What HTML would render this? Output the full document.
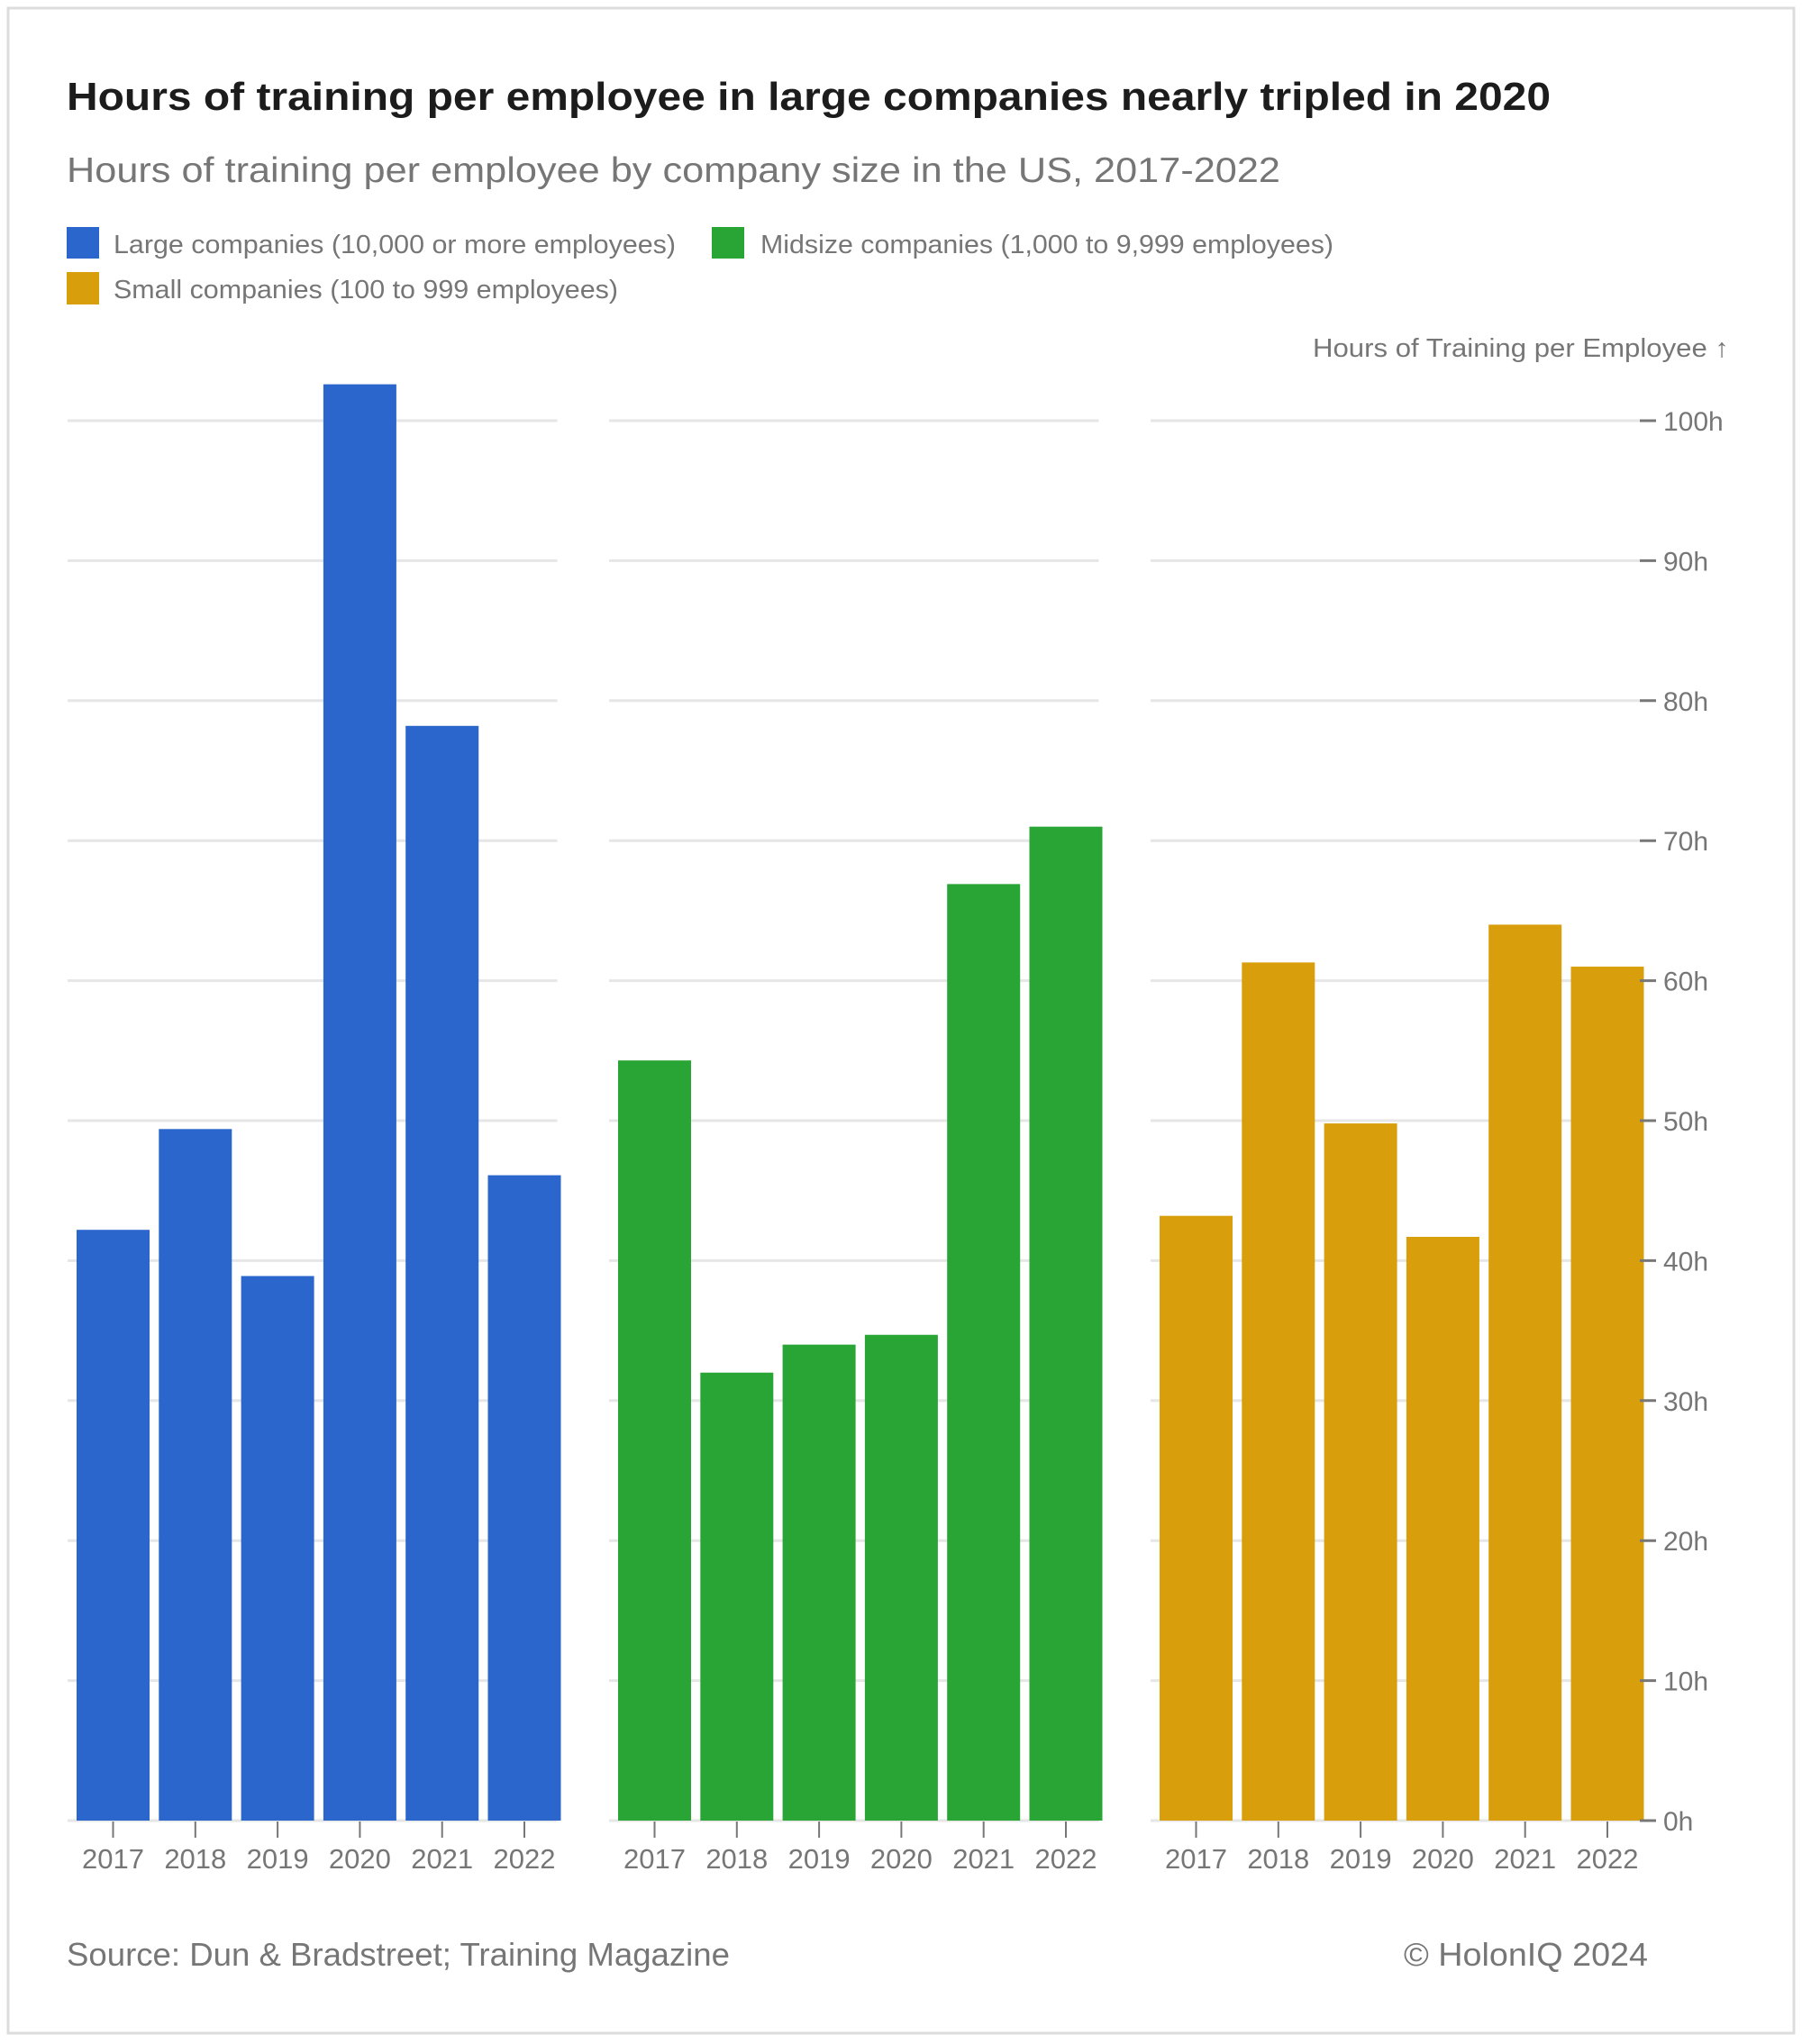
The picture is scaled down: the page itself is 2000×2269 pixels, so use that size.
<!DOCTYPE html>
<html><head><meta charset="utf-8"><style>
html,body{margin:0;padding:0;background:#fff}
svg{display:block;font-family:"Liberation Sans",sans-serif}
</style></head><body>
<svg id="chart" width="2000" height="2269" viewBox="0 0 2000 2269" xmlns="http://www.w3.org/2000/svg">
<rect x="9" y="9" width="1982" height="2248" fill="#fff" stroke="#dcdcdc" stroke-width="3"/>
<text x="74" y="122" font-size="44" font-weight="bold" fill="#1c1c1c" textLength="1647" lengthAdjust="spacingAndGlyphs">Hours of training per employee in large companies nearly tripled in 2020</text>
<text x="74" y="202" font-size="39" fill="#767676" textLength="1347" lengthAdjust="spacingAndGlyphs">Hours of training per employee by company size in the US, 2017-2022</text>
<g>
<rect x="74" y="252" width="36" height="35" fill="#2a66cc"/>
<text x="126" y="281" font-size="29" fill="#767676" textLength="624" lengthAdjust="spacingAndGlyphs">Large companies (10,000 or more employees)</text>
<rect x="790" y="252" width="36" height="35" fill="#28a534"/>
<text x="844" y="281" font-size="29" fill="#767676" textLength="636" lengthAdjust="spacingAndGlyphs">Midsize companies (1,000 to 9,999 employees)</text>
<rect x="74" y="302" width="36" height="36" fill="#d89e0b"/>
<text x="126" y="331" font-size="29" fill="#767676" textLength="560" lengthAdjust="spacingAndGlyphs">Small companies (100 to 999 employees)</text>
</g>
<text x="1919" y="396" font-size="29" fill="#767676" text-anchor="end" textLength="462" lengthAdjust="spacingAndGlyphs">Hours of Training per Employee ↑</text>
<g id="plot"></g>
<text x="74" y="2182" font-size="36" fill="#767676" textLength="736" lengthAdjust="spacingAndGlyphs">Source: Dun &amp; Bradstreet; Training Magazine</text>
<text x="1829" y="2182" font-size="36" fill="#767676" text-anchor="end" textLength="271" lengthAdjust="spacingAndGlyphs">© HolonIQ 2024</text>
</svg>
<script>
const years = ["2017","2018","2019","2020","2021","2022"];
const largeValues = [42.2, 49.4, 38.9, 102.6, 78.2, 46.1];
const midsizeValues = [54.3, 32.0, 34.0, 34.7, 66.9, 71.0];
const smallValues = [43.2, 61.3, 49.8, 41.7, 64.0, 61.0];
const yTicks = [0,10,20,30,40,50,60,70,80,90,100];
const yTickLabels = ["0h","10h","20h","30h","40h","50h","60h","70h","80h","90h","100h"];

const NS = "http://www.w3.org/2000/svg";
const plot = document.getElementById("plot");
const y0 = 2021, pxPer = 15.54;
function yScale(v){ return y0 - v * pxPer; }
const panelStarts = [85, 686, 1287];
const step = 91.3, bw = 81;
function xScale(panel, i){ return panelStarts[panel] + i * step; }
function mk(tag, attrs){ const e = document.createElementNS(NS, tag); for (const k in attrs) e.setAttribute(k, attrs[k]); plot.appendChild(e); return e; }

const series = [
  {name:"large", vals:largeValues, color:"#2a66cc"},
  {name:"midsize", vals:midsizeValues, color:"#28a534"},
  {name:"small", vals:smallValues, color:"#d89e0b"}
];

series.forEach((s, p) => {
  const gx0 = xScale(p, 0) - 10, gx1 = xScale(p, 5) + bw - 4;
  yTicks.forEach(t => {
    const g = mk("line", {x1:gx0, x2:gx1, y1:yScale(t), y2:yScale(t), stroke:"#e6e6e6", "stroke-width":3});
    
    
  });
  s.vals.forEach((v, i) => {
    const x = xScale(p, i);
    const r = mk("rect", {x:x, y:yScale(v), width:bw, height:y0 - yScale(v), fill:s.color});
    
    
    const tk = mk("line", {x1:x + bw/2, x2:x + bw/2, y1:y0 + 1, y2:y0 + 19, stroke:"#777", "stroke-width":2});
    
    
    const lb = mk("text", {x:x + bw/2, y:2074, "font-size":31, fill:"#767676", "text-anchor":"middle"});
    lb.textContent = years[i];
    
    
  });
});

yTicks.forEach((t, i) => {
  const tk = mk("line", {x1:1820, x2:1838, y1:yScale(t), y2:yScale(t), stroke:"#777", "stroke-width":3});
  
  
  const lb = mk("text", {x:1846, y:yScale(t) + 11, "font-size":30, fill:"#767676"});
  lb.textContent = yTickLabels[i];
  
  
});
</script>
</body></html>
